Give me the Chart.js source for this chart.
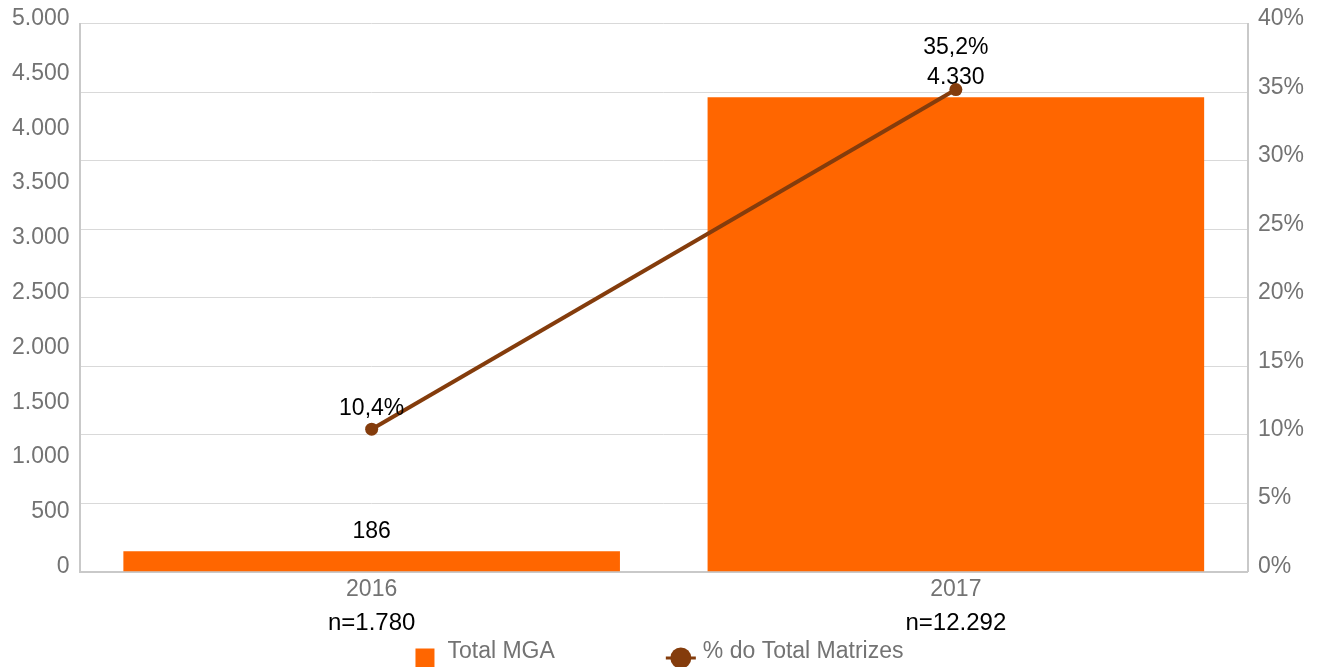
<!DOCTYPE html>
<html><head><meta charset="utf-8">
<script src="https://cdn.jsdelivr.net/npm/chart.js@4"></script>
<style>html,body{margin:0;padding:0;background:#fff}#wrap{width:1319px;height:667px;position:relative}</style>
</head><body><div id="wrap"><canvas id="c"></canvas></div>
<script>
const categories = ['2016', '2017'];
const sampleSizes = ['n=1.780', 'n=12.292'];
const totalMGA = [186, 4330];
const pctTotalMatrizes = [10.4, 35.2];
const seriesNames = ['Total MGA', '% do Total Matrizes'];

const FONT = "'Liberation Sans', Arial, sans-serif";
const ORANGE = '#FF6600';
const BROWN = '#843C0C';
const GRAY_TXT = '#737373';

function fmtThousands(v) { return String(v).replace(/\B(?=(\d{3})+(?!\d))/g, '.'); }
function fmtPct(v) { return v.toFixed(1).replace('.', ',') + '%'; }

const dataLabels = {
  id: 'dataLabels',
  afterDatasetDraw(chart, args) {
    const ctx = chart.ctx;
    ctx.save();
    ctx.font = '23px ' + FONT;
    ctx.fillStyle = '#000';
    ctx.textAlign = 'center';
    ctx.textBaseline = 'middle';
    if (args.index === 0) {
      chart._barLabelY = [];
      args.meta.data.forEach((bar, i) => {
        const y = bar.y - 20;
        chart._barLabelY[i] = y;
        ctx.fillText(fmtThousands(totalMGA[i]), bar.x, y);
      });
    } else if (args.index === 1) {
      args.meta.data.forEach((pt, i) => {
        let y = pt.y - 21;
        const by = chart._barLabelY ? chart._barLabelY[i] : null;
        if (by != null && Math.abs(y - by) < 26) y = by - 30;
        ctx.fillText(fmtPct(pctTotalMatrizes[i]), pt.x, y);
      });
    }
    ctx.restore();
  }
};

const customLegend = {
  id: 'customLegend',
  afterDraw(chart) {
    const ctx = chart.ctx;
    ctx.save();
    ctx.font = '23px ' + FONT;
    const w1 = ctx.measureText(seriesNames[0]).width;
    const w2 = ctx.measureText(seriesNames[1]).width;
    const sq = 19, g1 = 13, gap = 111, mk = 30, g2 = 7;
    const total = sq + g1 + w1 + gap + mk + g2 + w2;
    let x = (chart.width - total) / 2;
    const ty = 652, my = 658;
    ctx.fillStyle = ORANGE;
    ctx.fillRect(x, my - 9.5, sq, sq);
    x += sq + g1;
    ctx.fillStyle = GRAY_TXT;
    ctx.textAlign = 'left';
    ctx.textBaseline = 'middle';
    ctx.fillText(seriesNames[0], x, ty);
    x += w1 + gap;
    ctx.strokeStyle = BROWN;
    ctx.lineWidth = 3;
    ctx.beginPath(); ctx.moveTo(x, my); ctx.lineTo(x + mk, my); ctx.stroke();
    ctx.fillStyle = BROWN;
    ctx.beginPath(); ctx.arc(x + mk / 2, my, 10.5, 0, Math.PI * 2); ctx.fill();
    x += mk + g2;
    ctx.fillStyle = GRAY_TXT;
    ctx.fillText(seriesNames[1], x, ty);
    ctx.restore();
  }
};

new Chart(document.getElementById('c'), {
  data: {
    labels: categories,
    datasets: [
      {
        type: 'bar',
        label: seriesNames[0],
        data: totalMGA,
        backgroundColor: ORANGE,
        borderWidth: 0,
        yAxisID: 'y',
        xAxisID: 'x',
        categoryPercentage: 1,
        barPercentage: 0.85,
        order: 2
      },
      {
        type: 'line',
        label: seriesNames[1],
        data: pctTotalMatrizes,
        borderColor: BROWN,
        backgroundColor: BROWN,
        borderWidth: 4,
        pointRadius: 6.5,
        pointBackgroundColor: BROWN,
        pointBorderWidth: 0,
        tension: 0,
        yAxisID: 'y1',
        xAxisID: 'x',
        order: 1
      }
    ]
  },
  options: {
    responsive: true,
    maintainAspectRatio: false,
    animation: false,
    layout: { padding: { top: 10, left: 2, right: 5, bottom: 27 } },
    plugins: {
      legend: { display: false },
      tooltip: { enabled: false }
    },
    scales: {
      x: {
        position: 'bottom',
        grid: { display: false, drawTicks: false },
        border: { display: true, color: '#c9c9c9', width: 2 },
        ticks: { color: GRAY_TXT, font: { family: FONT, size: 23 }, padding: 4 }
      },
      x2: {
        type: 'category',
        labels: sampleSizes,
        offset: true,
        position: 'bottom',
        grid: { display: false, drawTicks: false },
        border: { display: false },
        ticks: { color: '#000', font: { family: FONT, size: 24 }, padding: 2 }
      },
      y: {
        position: 'left',
        min: 0, max: 5000,
        ticks: { stepSize: 500, color: GRAY_TXT, font: { family: FONT, size: 23 }, padding: 10, labelOffset: -5,
          callback: v => fmtThousands(v) },
        grid: { display: false, drawTicks: false },
        border: { display: true, color: '#c9c9c9', width: 2 }
      },
      y1: {
        position: 'right',
        min: 0, max: 40,
        ticks: { stepSize: 5, color: GRAY_TXT, font: { family: FONT, size: 23 }, padding: 10, labelOffset: -5,
          callback: v => v + '%' },
        grid: { display: true, drawTicks: false, color: '#d9d9d9', lineWidth: 1 },
        border: { display: true, color: '#c9c9c9', width: 2 }
      }
    }
  },
  plugins: [dataLabels, customLegend]
});
</script>
</body></html>
